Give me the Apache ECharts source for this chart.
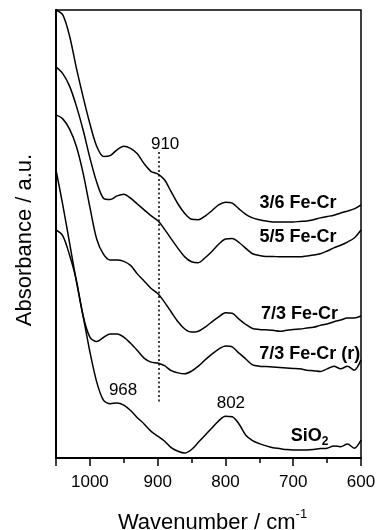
<!DOCTYPE html>
<html>
<head>
<meta charset="utf-8">
<script src="https://cdn.jsdelivr.net/npm/echarts@6/dist/echarts.min.js"></script>
<style>
html,body{margin:0;padding:0;background:#fff;}
#chart{width:379px;height:530px;}
</style>
</head>
<body>
<div id="chart"></div>
<script>
// Wavenumber grid (cm-1)
var wavenumbers = [1050,1040,1030,1020,1010,1000,990,980,970,960,950,940,930,920,910,900,890,880,870,860,850,840,830,820,810,800,790,780,770,760,750,740,730,720,710,700,690,680,670,660,650,640,630,620,610,600];
// Absorbance (a.u., offset traces)
var fe36 = [100.0,98.9,94.2,87.1,80.6,74.6,69.6,67.3,67.5,68.8,69.6,69.1,67.9,65.7,64.0,63.4,62.1,59.4,56.7,54.6,53.3,53.2,54.0,55.2,56.5,57.1,56.9,55.6,54.4,53.6,53.2,52.9,52.7,52.7,52.7,52.7,52.8,52.9,53.2,53.6,53.9,54.2,54.7,55.1,55.6,56.5];
var fe55 = [87.3,85.8,83.0,78.6,73.2,67.0,61.6,58.0,57.7,58.5,58.9,58.0,56.7,55.4,54.1,53.0,51.1,48.9,46.8,44.9,43.8,43.6,44.7,46.1,47.7,48.9,49.0,48.1,46.8,45.6,45.2,45.0,45.0,44.9,44.9,44.9,44.9,45.1,45.3,45.6,46.2,46.9,47.5,48.2,49.1,50.9];
var fe73 = [76.6,75.7,73.4,69.6,63.6,56.0,48.9,45.5,44.2,44.2,43.9,43.0,41.1,39.5,37.9,36.7,34.8,32.6,30.4,28.8,28.1,28.3,29.2,30.4,31.5,32.4,32.3,31.0,29.8,28.9,28.7,28.6,28.5,28.3,28.5,28.7,28.8,29.0,29.2,29.6,29.9,30.4,30.8,31.25,31.25,31.7];
var fe73r = [50.9,49.6,45.3,39.7,31.7,27.0,26.0,26.9,27.7,27.7,27.0,25.6,24.0,22.3,21.4,21.2,20.6,19.5,19.0,18.8,19.4,20.5,21.9,23.2,24.3,25.0,24.8,23.4,22.1,20.8,20.5,20.4,20.3,20.2,20.1,20.0,19.9,19.6,19.5,19.3,19.9,20.5,19.9,20.5,19.6,21.9];
var sio2 = [64.3,56.5,48.0,39.5,31.7,23.7,17.0,12.9,12.1,12.3,11.8,10.6,9.0,7.6,6.0,4.9,3.8,2.3,1.5,1.1,1.9,3.5,5.1,6.7,8.3,9.3,9.2,7.6,5.1,3.9,3.2,2.7,2.3,2.1,1.9,1.8,1.8,1.8,1.9,2.1,2.2,2.7,2.5,3.1,2.2,4.0];
var seriesNames = ['3/6 Fe-Cr','5/5 Fe-Cr','7/3 Fe-Cr','7/3 Fe-Cr (r)','SiO2'];
var seriesValues = [fe36, fe55, fe73, fe73r, sio2];
var majorTicks = [1000,900,800,700,600];

var FONT = 'Liberation Sans, Arial, Helvetica, sans-serif';

function pairs(vals){
  return wavenumbers.map(function(w,i){return [w, vals[i]];});
}

// label anchor positions (data coords)
var nameAnchors = [[693,56.9],[693,49.3],[690.7,32.1],[675.5,23.2],[676,4.9]];
var nameFormat = ['3/6 Fe-Cr','5/5 Fe-Cr','7/3 Fe-Cr','7/3 Fe-Cr (r)','{m|SiO}{s|2}'];

var series = seriesValues.map(function(vals, k){
  return {
    name: seriesNames[k],
    type: 'line',
    xAxisIndex: 0,
    data: pairs(vals),
    showSymbol: false,
    symbol: 'none',
    smooth: 0.3,
    lineStyle: {color:'#000', width:1.5},
    silent: true,
    markPoint: {
      symbol: 'circle', symbolSize: 1, silent: true,
      itemStyle: {color: 'rgba(0,0,0,0)'},
      label: {
        show: true, position: 'inside', color: '#000',
        fontFamily: FONT, fontWeight: 'bold', fontSize: 18,
        formatter: nameFormat[k],
        rich: {
          m: {fontFamily: FONT, fontWeight:'bold', fontSize:18, lineHeight:24, color:'#000'},
          s: {fontFamily: FONT, fontWeight:'bold', fontSize:12, lineHeight:12, verticalAlign:'bottom', color:'#000'}
        }
      },
      data: [{coord: nameAnchors[k]}]
    }
  };
});

// peak annotations and dotted marker line
series.push({
  type: 'line', xAxisIndex: 0, data: [], silent: true,
  markLine: {
    symbol: 'none', silent: true,
    label: {show:false},
    lineStyle: {color:'#000', width:1.5, type:[2,2.5]},
    data: [[{coord:[898,68.3]},{coord:[898,12.3]}]]
  },
  markPoint: {
    symbol: 'circle', symbolSize: 1, silent: true,
    itemStyle: {color: 'rgba(0,0,0,0)'},
    label: {show:true, position:'inside', color:'#000', fontFamily: FONT, fontSize: 17,
      formatter: function(p){return p.name;}},
    data: [
      {name:'910', coord:[889,70.0]},
      {name:'968', coord:[951,15.2]},
      {name:'802', coord:[792,12.1]}
    ]
  }
});

var chart = echarts.init(document.getElementById('chart'), null, {renderer:'canvas'});
chart.setOption({
  animation: false,
  backgroundColor: '#fff',
  grid: {left:56, right:18, top:10, bottom:72, containLabel:false, outerBoundsMode:'none',
         show:true, borderColor:'#000', borderWidth:1.5, backgroundColor:'transparent'},
  xAxis: [{
    type: 'value', inverse: true, min: 600, max: 1050, interval: 100,
    position: 'bottom',
    axisLine: {show:true, onZero:false, lineStyle:{color:'#000', width:2}},
    axisTick: {show:true, inside:false, length:8, lineStyle:{color:'#000', width:1.5}},
    axisLabel: {show:true, margin:16, color:'#000', fontFamily: FONT, fontSize:17,
      formatter: function(v){ return majorTicks.indexOf(v) >= 0 ? String(v) : ''; }},
    splitLine: {show:false},
    name: '{a|Wavenumber / cm}{s|-1}',
    nameLocation: 'middle', nameGap: 50,
    nameTextStyle: {
      color:'#000', fontFamily: FONT, fontSize: 22, padding:[0,0,0,8],
      rich: {
        a: {fontFamily: FONT, fontSize:22, lineHeight:30, color:'#000'},
        s: {fontFamily: FONT, fontSize:13, lineHeight:14, verticalAlign:'top', color:'#000'}
      }
    }
  },{
    type: 'value', inverse: true, min: 600, max: 1050, interval: 50,
    position: 'bottom', gridIndex: 0,
    axisLine: {show:false, onZero:false},
    axisTick: {show:true, inside:false, length:5, lineStyle:{color:'#000', width:1.5}},
    axisLabel: {show:false},
    splitLine: {show:false}
  }],
  yAxis: {
    type: 'value', min: 0, max: 100,
    axisLine: {show:true, lineStyle:{color:'#000', width:2}},
    axisTick: {show:false},
    axisLabel: {show:false},
    splitLine: {show:false},
    name: 'Absorbance / a.u.',
    nameLocation: 'middle', nameGap: 20, nameRotate: 90,
    nameTextStyle: {color:'#000', fontFamily: FONT, fontSize: 22, padding:[0,12,0,0]}
  },
  series: series
});
</script>
</body>
</html>
